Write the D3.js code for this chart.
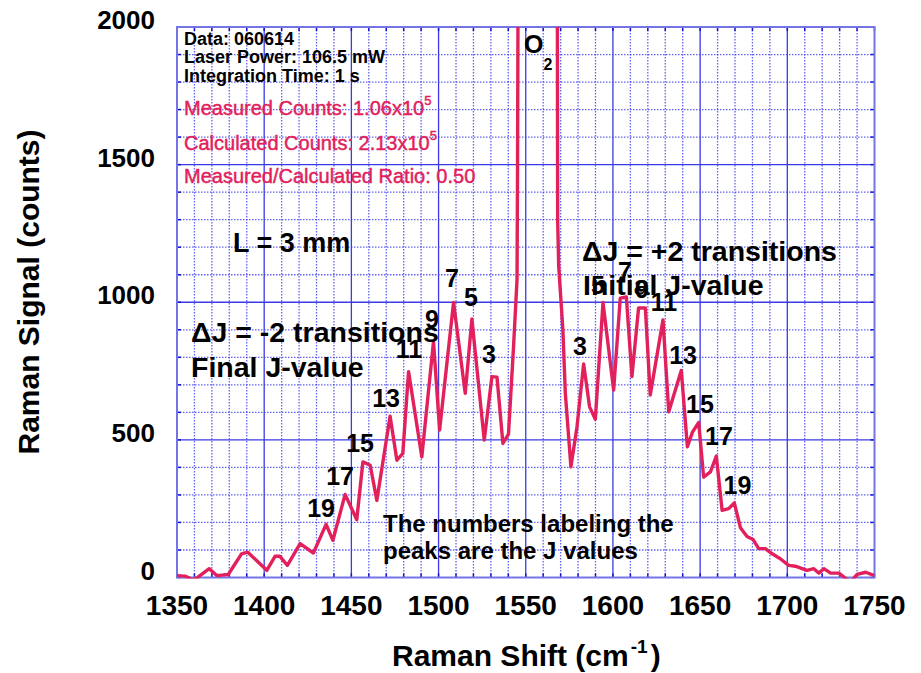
<!DOCTYPE html>
<html lang="en">
<head>
<meta charset="UTF-8">
<title>Raman Signal</title>
<script src="https://d3js.org/d3.v7.min.js"></script>
<style>
  body { margin: 0; background: #fff; }
  text { font-family: "Liberation Sans", Arial, sans-serif; }
</style>
</head>
<body>
<div id="chart"></div>
<script>
// Raman shift (cm^-1) and measured counts
const shift = [1350, 1354.6, 1359.4, 1362, 1368.5, 1372.8, 1379.4, 1387, 1390.6, 1401.5,
  1406.2, 1409, 1413.3, 1420.6, 1428.2, 1435.5, 1439.4, 1446.4, 1453.1, 1456.6,
  1460.8, 1464.6, 1472.2, 1476.1, 1479.5, 1482.8, 1490.4, 1497.1, 1500.6, 1508.6,
  1515.3, 1519.1, 1526.2, 1530.6, 1533.5, 1536.9, 1540.1, 1543, 1545, 1545.3,
  1545.8, 1568, 1568.3, 1568.9, 1571.3, 1572.7, 1575.9, 1579.4, 1583.2, 1586.6,
  1589.9, 1594.3, 1600.4, 1604.2, 1607.7, 1610.9, 1614.7, 1618.6, 1621.4, 1628.7,
  1632, 1639.2, 1642.7, 1645.6, 1649.2, 1652, 1655.9, 1659.3, 1662.6, 1666.4,
  1669.6, 1673.1, 1676.9, 1680.4, 1683.6, 1687.4, 1691.3, 1696, 1700.8, 1704.6,
  1711.3, 1715.2, 1718, 1721, 1724.8, 1729.6, 1733.4, 1736.5, 1740, 1745, 1750];
const counts = [7, 5, -8, 1, 32, 7, 11, 86, 92, 26,
  77, 77, 44, 123, 89, 193, 135, 302, 210, 420,
  408, 280, 586, 426, 451, 748, 438, 857, 536, 999,
  669, 939, 499, 730, 728, 487, 521, 839, 1082, 1500,
  2600, 2600, 1300, 1130, 900, 669, 402, 548, 776, 620,
  575, 999, 681, 1015, 1019, 730, 979, 979, 663, 936,
  602, 752, 475, 528, 563, 365, 384, 441, 244, 250,
  271, 181, 149, 138, 105, 105, 86, 68, 44, 41,
  26, 32, 16, 32, 16, 16, -3, -15, 11, 19, 7];

const xTicks = [1350, 1400, 1450, 1500, 1550, 1600, 1650, 1700, 1750];
const yTicks = [0, 500, 1000, 1500, 2000];

// J-value labels over the rotational peaks: [text, shift, counts]
const peakLabels = [
  ["19", 1432.6, 220], ["17", 1443.5, 336], ["15", 1455, 456], ["13", 1469.9, 619],
  ["11", 1483, 797], ["9", 1496.2, 906], ["7", 1507.7, 1055], ["5", 1518.6, 986], ["3", 1528.9, 779],
  ["3", 1581.1, 809], ["5", 1591.4, 1030], ["7", 1606.9, 1081], ["9", 1616.7, 1017], ["11", 1629.3, 968],
  ["13", 1640.2, 777], ["15", 1649.9, 598], ["17", 1660.8, 481], ["19", 1671.4, 303]
];

const width = 921, height = 673;
const x = d3.scaleLinear().domain([1350, 1750]).range([177, 874.5]);
const y = d3.scaleLinear().domain([0, 2000]).range([577.5, 27]);

const svg = d3.select("#chart").append("svg")
  .attr("width", width).attr("height", height);

// grid
const grid = svg.append("g");
grid.selectAll(".vmin").data(d3.range(1360, 1750, 10).filter(v => v % 50 !== 0))
  .join("line")
  .attr("x1", d => x(d)).attr("x2", d => x(d))
  .attr("y1", y(2000)).attr("y2", y(0))
  .attr("stroke", "#3030f0").attr("stroke-width", 1.3)
  .attr("stroke-dasharray", "1.5,1.5").attr("opacity", 0.75);
grid.selectAll(".hmin").data(d3.range(100, 2000, 100).filter(v => v % 500 !== 0))
  .join("line")
  .attr("x1", x(1350)).attr("x2", x(1750))
  .attr("y1", d => y(d)).attr("y2", d => y(d))
  .attr("stroke", "#3030f0").attr("stroke-width", 1.3)
  .attr("stroke-dasharray", "1.5,1.5").attr("opacity", 0.75);
grid.selectAll(".vmaj").data(xTicks.slice(1, -1))
  .join("line")
  .attr("x1", d => x(d)).attr("x2", d => x(d))
  .attr("y1", y(2000)).attr("y2", y(0))
  .attr("stroke", "#3a3ae6").attr("stroke-width", 1.3);
grid.selectAll(".hmaj").data(yTicks.slice(1, -1))
  .join("line")
  .attr("x1", x(1350)).attr("x2", x(1750))
  .attr("y1", d => y(d)).attr("y2", d => y(d))
  .attr("stroke", "#3a3ae6").attr("stroke-width", 1.3);

// inner ticks
const tickLen = 4;
const minorX = d3.range(1350, 1751, 10);
const minorY = d3.range(0, 2001, 100);
const ticks = svg.append("g").attr("stroke", "#1010d0").attr("stroke-width", 1.5);
ticks.selectAll(".tb").data(minorX).join("line")
  .attr("x1", d => x(d)).attr("x2", d => x(d)).attr("y1", y(0)).attr("y2", y(0) - tickLen);
ticks.selectAll(".tt").data(minorX).join("line")
  .attr("x1", d => x(d)).attr("x2", d => x(d)).attr("y1", y(2000)).attr("y2", y(2000) + tickLen);
ticks.selectAll(".tl").data(minorY).join("line")
  .attr("x1", x(1350)).attr("x2", x(1350) + tickLen).attr("y1", d => y(d)).attr("y2", d => y(d));
ticks.selectAll(".tr").data(minorY).join("line")
  .attr("x1", x(1750)).attr("x2", x(1750) - tickLen).attr("y1", d => y(d)).attr("y2", d => y(d));

// frame
svg.append("rect")
  .attr("x", x(1350)).attr("y", y(2000))
  .attr("width", x(1750) - x(1350)).attr("height", y(0) - y(2000))
  .attr("fill", "none").attr("stroke", "#7474e4").attr("stroke-width", 2);

// data trace
svg.append("clipPath").attr("id", "plot").append("rect")
  .attr("x", x(1350)).attr("y", y(2000))
  .attr("width", x(1750) - x(1350)).attr("height", y(0) - y(2000) + 1);
const line = d3.line().x((d, i) => x(shift[i])).y(d => y(d));
svg.append("path")
  .datum(counts)
  .attr("clip-path", "url(#plot)")
  .attr("d", line)
  .attr("fill", "none")
  .attr("stroke", "#e2215c")
  .attr("stroke-width", 3.4)
  .attr("stroke-linejoin", "round");

// axis labels
svg.append("g").selectAll("text").data(xTicks).join("text")
  .attr("x", d => x(d)).attr("y", 615)
  .attr("text-anchor", "middle")
  .attr("font-size", 28).attr("font-weight", "bold")
  .text(d => d);
svg.append("g").selectAll("text").data(yTicks).join("text")
  .attr("x", 155).attr("y", d => y(d) + 2)
  .attr("text-anchor", "end")
  .attr("font-size", 26).attr("font-weight", "bold")
  .text(d => d);

svg.append("text")
  .attr("transform", "translate(39,292) rotate(-90)")
  .attr("text-anchor", "middle")
  .attr("font-size", 30).attr("font-weight", "bold")
  .text("Raman Signal (counts)");

const xt = svg.append("text")
  .attr("x", 392).attr("y", 666)
  .attr("font-size", 30).attr("font-weight", "bold");
xt.append("tspan").text("Raman Shift (cm");
xt.append("tspan").attr("font-size", 19).attr("dy", -13).attr("dx", 2).text("-1");
xt.append("tspan").attr("dy", 13).attr("dx", 3).text(")");

// header info
const info = ["Data: 060614", "Laser Power: 106.5 mW", "Integration Time: 1 s"];
svg.append("g").selectAll("text").data(info).join("text")
  .attr("x", 184).attr("y", (d, i) => 45 + i * 18.3)
  .attr("font-size", 18).attr("font-weight", "bold")
  .text(d => d);

const red = "#e2215c";
const redText = (sel) => sel.attr("x", 184).attr("font-size", 20)
  .attr("fill", red).attr("stroke", red).attr("stroke-width", 0.45);
const m1 = svg.append("text").attr("y", 115).call(redText);
m1.append("tspan").text("Measured Counts: 1.06x10");
m1.append("tspan").attr("font-size", 13).attr("dy", -10).text("5");
const m2 = svg.append("text").attr("y", 150).call(redText);
m2.append("tspan").text("Calculated Counts: 2.13x10");
m2.append("tspan").attr("font-size", 13).attr("dy", -10).text("5");
svg.append("text").attr("y", 183).call(redText)
  .text("Measured/Calculated Ratio: 0.50");

// O2 label
const o2 = svg.append("text").attr("x", 524).attr("y", 53)
  .attr("font-size", 25).attr("font-weight", "bold");
o2.append("tspan").text("O");
o2.append("tspan").attr("font-size", 16).attr("dy", 17).text("2");

// annotations
const big = [
  ["L = 3 mm", 233, 252, 27],
  ["\u0394J = -2 transitions", 191, 342, 28.5],
  ["Final J-value", 191, 377, 28.5],
  ["\u0394J = +2 transitions", 582, 261, 28.5],
  ["Initial J-value", 583, 295, 28.5]
];
svg.append("g").selectAll("text").data(big).join("text")
  .attr("x", d => d[1]).attr("y", d => d[2])
  .attr("font-size", d => d[3]).attr("font-weight", "bold")
  .text(d => d[0]);

svg.append("g").selectAll("text").data(["The numbers labeling the", "peaks are the J values"]).join("text")
  .attr("x", 383).attr("y", (d, i) => 532 + i * 26.5)
  .attr("font-size", 24).attr("font-weight", "bold")
  .text(d => d);

svg.append("g").selectAll("text").data(peakLabels).join("text")
  .attr("x", d => x(d[1])).attr("y", d => y(d[2]))
  .attr("text-anchor", "middle")
  .attr("font-size", 25).attr("font-weight", "bold")
  .text(d => d[0]);
</script>
</body>
</html>
